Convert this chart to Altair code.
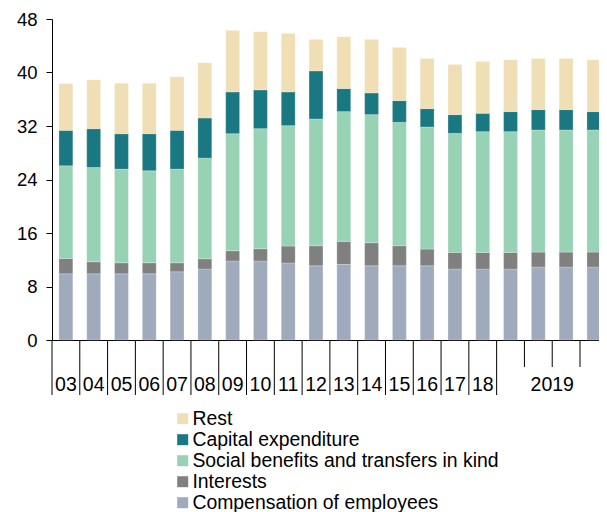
import altair as alt
import pandas as pd

periods = ["2003", "2004", "2005", "2006", "2007", "2008", "2009", "2010",
           "2011", "2012", "2013", "2014", "2015", "2016", "2017", "2018",
           "2019Q1", "2019Q2", "2019Q3", "2019Q4"]
groups = ["03", "04", "05", "06", "07", "08", "09", "10", "11", "12", "13",
          "14", "15", "16", "17", "18", "2019", "2019", "2019", "2019"]

compensation = [9.9, 9.9, 9.9, 9.9, 10.2, 10.6, 11.8, 11.8, 11.5, 11.1, 11.3,
                11.1, 11.1, 11.1, 10.6, 10.6, 10.6, 10.9, 10.9, 10.9]
interests = [2.3, 1.8, 1.65, 1.65, 1.35, 1.55, 1.55, 1.85, 2.55, 3.0, 3.45,
             3.45, 3.0, 2.5, 2.5, 2.5, 2.5, 2.25, 2.25, 2.25]
social = [13.85, 14.1, 14.0, 13.75, 14.0, 15.05, 17.5, 17.95, 18.0, 18.95,
          19.4, 19.15, 18.45, 18.25, 17.8, 18.05, 18.05, 18.25, 18.25, 18.25]
capex = [5.3, 5.8, 5.3, 5.55, 5.8, 6.0, 6.25, 5.8, 5.05, 7.2, 3.45, 3.25,
         3.25, 2.75, 2.8, 2.75, 3.0, 3.05, 3.05, 2.75]
rest = [7.0, 7.3, 7.55, 7.55, 8.0, 8.25, 9.2, 8.7, 8.75, 4.7, 7.75, 8.0,
        7.95, 7.5, 7.5, 7.75, 7.75, 7.65, 7.65, 7.75]

series_names = ["Compensation of employees", "Interests",
                "Social benefits and transfers in kind",
                "Capital expenditure", "Rest"]
series_values = [compensation, interests, social, capex, rest]
series_colors = ["#A0AABD", "#808080", "#98D2B5", "#1A7882", "#F0DEB4"]

# stacked segments
rows = []
for i, p in enumerate(periods):
    base = 0.0
    for k, (name, vals) in enumerate(zip(series_names, series_values)):
        rows.append(dict(period=p, lo=i - 0.25, hi=i + 0.25, series=name,
                         y0=base, y1=base + vals[i], order=k))
        base += vals[i]
df = pd.DataFrame(rows)

# group labels and separators
lab_rows = []
long_sep = []
short_sep = []
prev = None
for i, g in enumerate(groups):
    if g != prev:
        long_sep.append(dict(x=i - 0.5))
        members = [j for j, gg in enumerate(groups) if gg == g]
        lab_rows.append(dict(x=sum(members) / len(members), label=g))
    else:
        short_sep.append(dict(x=i - 0.5))
    prev = g
df_lab = pd.DataFrame(lab_rows)
df_long = pd.DataFrame(long_sep)
df_short = pd.DataFrame(short_sep)

FONT = "Liberation Sans"
W, H = 547, 321
step = 27.79
xscale = alt.Scale(domain=[-0.5, -0.5 + W / step], nice=False, zero=False)
legend_order = list(reversed(series_names))
color_scale = alt.Scale(domain=legend_order,
                        range=list(reversed(series_colors)))

bars = alt.Chart(df).mark_bar(stroke="#ffffff", strokeWidth=0.4,
                              strokeOpacity=0.6).encode(
    x=alt.X("lo:Q", scale=xscale,
            axis=alt.Axis(labels=False, ticks=False, grid=False, title=None,
                          domainColor="black", domainWidth=1)),
    x2="hi:Q",
    y=alt.Y("y0:Q", scale=alt.Scale(domain=[0, 48], nice=False),
            axis=alt.Axis(values=[0, 8, 16, 24, 32, 40, 48], tickSize=6,
                          labelPadding=9, labelFontSize=18.5, labelFont=FONT,
                          labelColor="black", domainColor="black",
                          tickColor="black", grid=False, title=None,
                          domainWidth=1, tickWidth=1)),
    y2="y1:Q",
    color=alt.Color("series:N", scale=color_scale,
                    legend=alt.Legend(title=None, orient="none",
                                      legendX=121, legendY=390,
                                      symbolType="square", symbolSize=121,
                                      symbolStrokeWidth=0, labelFontSize=19.4,
                                      labelFont=FONT, labelColor="black",
                                      rowPadding=0, labelOffset=0,
                                      padding=0, labelLimit=500)),
    order="order:Q",
)

seps_long = alt.Chart(df_long).mark_rule(color="black", strokeWidth=1).encode(
    x=alt.X("x:Q", scale=xscale), y=alt.value(H), y2=alt.value(H + 55))
seps_short = alt.Chart(df_short).mark_rule(color="black", strokeWidth=1).encode(
    x=alt.X("x:Q", scale=xscale), y=alt.value(H), y2=alt.value(H + 27))
labels = alt.Chart(df_lab).mark_text(font=FONT, fontSize=19.5, color="black",
                                     baseline="alphabetic", align="center").encode(
    x=alt.X("x:Q", scale=xscale), y=alt.value(H + 51), text="label:N")

chart = alt.layer(bars, seps_long, seps_short, labels).properties(
    width=W, height=H,
    autosize=alt.AutoSizeParams(type="none"),
    padding={"left": 44, "top": 11, "right": 0, "bottom": 172},
).configure_view(stroke=None)

chart.save("out.html", embed_options={"renderer": "svg", "actions": False})
